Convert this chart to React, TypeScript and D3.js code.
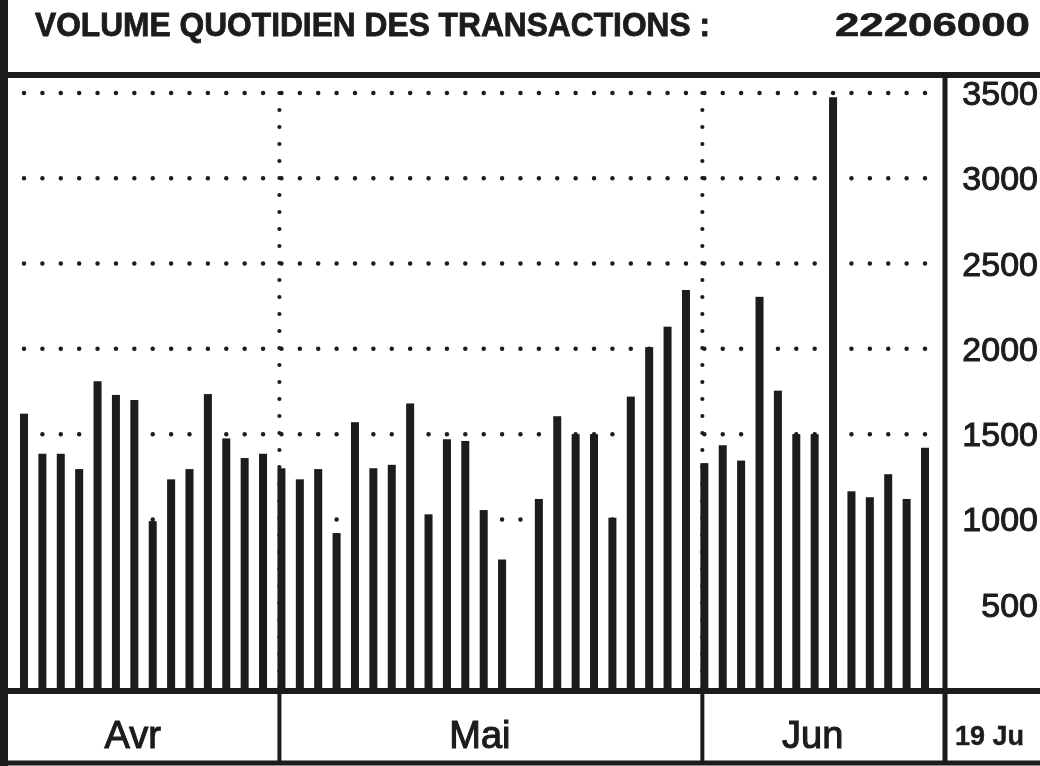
import React from 'react';
import * as d3 from 'd3';

// --- data ---
const title = 'VOLUME QUOTIDIEN DES TRANSACTIONS :';
const totalVolume = '22206000';
// one slot per trading day, null = market closed
const volumes: (number | null)[] = [
  1620, 1385, 1385, 1295, 1810, 1730, 1700, 990, 1235, 1295, 1735, 1475, 1360, 1385,
  1300, 1235, 1295, 920, 1570, 1300, 1320, 1680, 1030, 1470, 1460, 1055, 765, null,
  1120, 1605, 1500, 1500, 1010, 1720, 2010, 2130, 2345,
  1330, 1435, 1345, 2305, 1755, 1500, 1500, 3475, 1165, 1130, 1265, 1120, 1420,
];
const months = ['Avr', 'Mai', 'Jun'];
const monthStart = [0, 14, 37];
const lastDayLabel = '19 Ju';
const yTicks = [500, 1000, 1500, 2000, 2500, 3000, 3500];
const gridValues = [1000, 1500, 2000, 2500, 3000, 3500];

const W = 1040;
const H = 766;
const ink = '#1b1b1b';

const App = () => {
  const frameLeft = 4;
  const frameTop = 75;
  const plotRight = 945;
  const baseY = 691;
  const bottomY = 763;

  const slots = volumes.map((_, i) => i);
  const x = d3.scalePoint<number>().domain(slots).range([24, 925]);
  const y = d3.scaleLinear().domain([0, 3500]).range([690, 93]);
  const step = x.step();

  // month boxes under the plot
  const bounds = monthStart.map((s, i) => (i === 0 ? 8 : (x(s) as number) - 2));
  bounds.push(plotRight);

  return (
    <svg width={W} height={H} style={{ position: 'absolute', left: 0, top: 0, display: 'block', background: '#fff' }}
      fontFamily="'Liberation Sans', Arial, sans-serif">
      <defs>
        <filter id="scan" x="-5%" y="-5%" width="110%" height="110%">
          <feGaussianBlur stdDeviation="0.6" />
        </filter>
      </defs>
      <g filter="url(#scan)" fill={ink}>
        {/* header */}
        <text x={35} y={36} fontSize={33} fontWeight="bold" textLength={675} lengthAdjust="spacingAndGlyphs"
          stroke={ink} strokeWidth={0.8}>{title}</text>
        <text x={835} y={36} fontSize={34} fontWeight="bold" textLength={195} lengthAdjust="spacingAndGlyphs"
          stroke={ink} strokeWidth={0.6}>{totalVolume}</text>

        {/* dotted grid */}
        {gridValues.map(v => (
          <line key={v} x1={x(0)} x2={x(slots.length - 1)} y1={y(v)} y2={y(v)}
            stroke={ink} strokeWidth={4.5} strokeLinecap="round" strokeDasharray={`0 ${step}`} />
        ))}
        {monthStart.slice(1).map(s => (
          <line key={s} x1={(x(s) as number) - 2} x2={(x(s) as number) - 2} y1={y(3500)} y2={baseY}
            stroke={ink} strokeWidth={4.2} strokeLinecap="round" strokeDasharray="0 17" />
        ))}

        {/* bars */}
        {volumes.map((v, i) => v == null ? null : (
          <rect key={i} x={(x(i) as number) - 4} width={8} y={y(v)} height={baseY - y(v)} fill={ink} />
        ))}

        {/* frame */}
        <line x1={0} x2={W} y1={frameTop} y2={frameTop} stroke={ink} strokeWidth={6} />
        <line x1={frameLeft} x2={frameLeft} y1={0} y2={H} stroke={ink} strokeWidth={8} />
        <line x1={plotRight} x2={plotRight} y1={frameTop} y2={bottomY} stroke={ink} strokeWidth={5} />
        <line x1={0} x2={W} y1={baseY} y2={baseY} stroke={ink} strokeWidth={6} />
        <line x1={0} x2={W} y1={bottomY} y2={bottomY} stroke={ink} strokeWidth={5} />
        {bounds.slice(1, -1).map((b, i) => (
          <line key={i} x1={b} x2={b} y1={baseY} y2={bottomY} stroke={ink} strokeWidth={4} />
        ))}

        {/* y axis labels on the right */}
        {yTicks.map(t => (
          <text key={t} x={1038} y={y(t)} fontSize={34} textAnchor="end" dominantBaseline="central"
            stroke={ink} strokeWidth={1}>{t}</text>
        ))}

        {/* month labels */}
        {months.map((m, i) => (
          <text key={m} x={(bounds[i] + bounds[i + 1]) / 2 - 11} y={748} fontSize={38} textAnchor="middle"
            stroke={ink} strokeWidth={1.1}>{m}</text>
        ))}
        <text x={955} y={745} fontSize={27} fontWeight="bold" stroke={ink} strokeWidth={0.4}>{lastDayLabel}</text>
      </g>
    </svg>
  );
};

export default App;
